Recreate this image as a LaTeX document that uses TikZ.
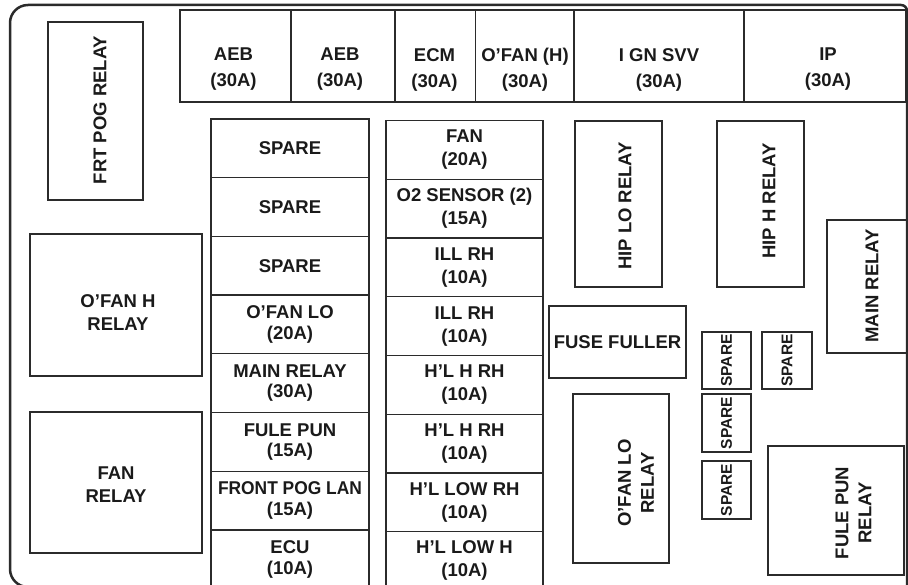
\documentclass[tikz,border=0pt]{standalone}
\usepackage{fontspec}
\setmainfont{Liberation Sans}
\definecolor{linec}{HTML}{2B2B2B}
\definecolor{textc}{HTML}{1A1A1A}
\tikzset{
  box/.style={draw=linec, line width=1.3pt, inner sep=0pt, fill=none},
  lbl/.style={text=textc, font=\bfseries\fontsize{18.5}{24}\selectfont, align=center, inner sep=0pt},
  lblL/.style={lbl, font=\bfseries\fontsize{18.5}{20.5}\selectfont},
  lblR/.style={lbl, font=\bfseries\fontsize{18.5}{23}\selectfont},
  lblT/.style={lbl, font=\bfseries\fontsize{18.5}{26}\selectfont},
  lblS/.style={lbl, font=\bfseries\fontsize{15.5}{18}\selectfont},
  frame/.style={draw=linec, line width=2.5pt}
}
\begin{document}
\begin{tikzpicture}[x=1pt,y=-1pt]
\useasboundingbox (0,0) rectangle (908,585);
\clip (0,0) rectangle (908,585);
% outer frame
\draw[frame] (922,587) [rounded corners=18pt] -- (10,587) -- (10,5) [rounded corners=6pt] -- (907,5) [sharp corners] -- (907,600);
% top row
\node[box, minimum width=111, minimum height=92] (aeb1) at (235.5,56) {};
\node[box, minimum width=104, minimum height=92] (aeb2) at (343,56) {};
\node[box, minimum width=80.5, minimum height=92] (ecm) at (435.25,56) {};
\node[box, minimum width=98.5, minimum height=92] (ofanhf) at (524.75,56) {};
\node[box, minimum width=170, minimum height=92] (ign) at (659,56) {};
\node[box, minimum width=162, minimum height=92] (ip) at (825,56) {};
\node[lblT] (aeb1t) at (233.5,69.5) {AEB\\(30A)};
\node[lblT] (aeb2t) at (340,69.5) {AEB\\(30A)};
\node[lblT] (ecmt) at (434.5,69.5) {ECM\\(30A)};
\node[lblT] (ofanhft) at (525,69.5) {O’FAN (H)\\(30A)};
\node[lblT] (ignt) at (659,69.5) {I GN SVV\\(30A)};
\node[lblT] (ipt) at (828,69.5) {IP\\(30A)};
% left relays
\node[box, minimum width=95, minimum height=178] (frt) at (95.5,111) {};
\node[lbl, rotate=90] (frtt) at (100,110) {FRT POG RELAY};
\node[box, minimum width=172, minimum height=142] (ofanh) at (116,305) {};
\node[lblR] (ofanht) at (118,313) {O’FAN H\\RELAY};
\node[box, minimum width=172, minimum height=141] (fanr) at (116,482.5) {};
\node[lblR] (fanrt) at (116,485) {FAN\\RELAY};
% left fuse column
\foreach \i/\t in {0/{SPARE},1/{SPARE},2/{SPARE},3/{O’FAN LO\\(20A)},4/{MAIN RELAY\\(30A)},5/{FULE PUN\\(15A)},6/{\scalebox{0.94}[1]{FRONT POG LAN}\\(15A)},7/{ECU\\(10A)}}{
  \node[box, lblL, minimum width=158, minimum height=58.7] (L\i) at (290,148.35+58.7*\i) {\t};
}
% right fuse column
\foreach \i/\t in {0/{FAN\\(20A)},1/{O2 SENSOR (2)\\(15A)},2/{ILL RH\\(10A)},3/{ILL RH\\(10A)},4/{H’L H RH\\(10A)},5/{H’L H RH\\(10A)},6/{H’L LOW RH\\(10A)},7/{H’L LOW H\\(10A)}}{
  \node[box, lblR, minimum width=157, minimum height=58.7] (R\i) at (464.5,150+58.7*\i) {\t};
}
% right area
\node[box, minimum width=87, minimum height=166] (hiplo) at (618.5,204) {};
\node[lbl, rotate=90] (hiplot) at (625,206) {HIP LO RELAY};
\node[box, minimum width=87, minimum height=166] (hiph) at (760.5,204) {};
\node[lbl, rotate=90] (hipht) at (769,201) {HIP H RELAY};
\node[box, minimum width=90, minimum height=133] (mainr) at (872,286.5) {};
\node[lbl, rotate=90] (mainrt) at (872,286) {MAIN RELAY};
\node[box, lbl, minimum width=137, minimum height=72] (fuseful) at (617.5,342) {FUSE FULLER};
\node[box, lblS, rotate=90, minimum width=57, minimum height=49] (sp1) at (726.5,360.5) {SPARE};
\node[box, lblS, rotate=90, minimum width=58, minimum height=49] (sp2) at (726.5,423) {SPARE};
\node[box, lblS, rotate=90, minimum width=58, minimum height=49] (sp3) at (726.5,490) {SPARE};
\node[box, lblS, rotate=90, minimum width=57, minimum height=50] (sp4) at (787,360.5) {SPARE};
\node[box, minimum width=96, minimum height=169] (ofanlo) at (621,478.5) {};
\node[lblR, rotate=90] (ofanlot) at (636,483) {O’FAN LO\\RELAY};
\node[box, minimum width=136, minimum height=129] (fulepun) at (836,510.5) {};
\node[lblR, rotate=90] (fulepunt) at (853.5,513) {FULE PUN\\RELAY};
\end{tikzpicture}
\end{document}
